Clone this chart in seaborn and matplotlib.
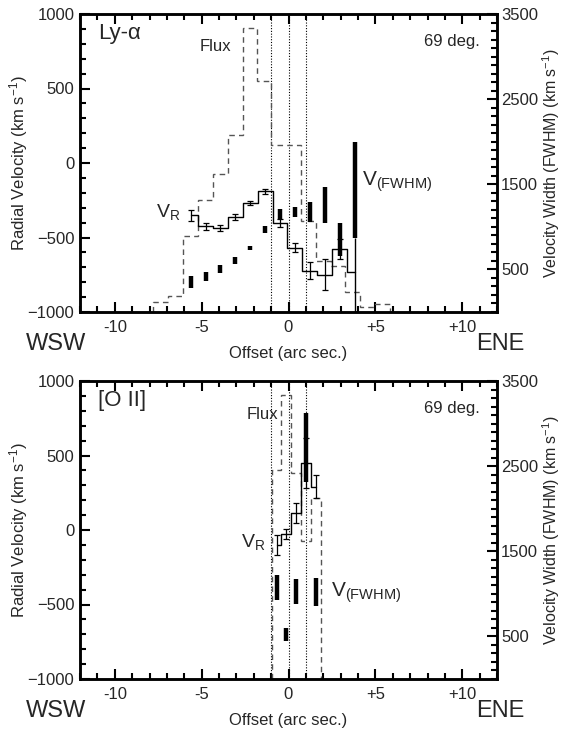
import numpy as np
import pandas as pd
import matplotlib
matplotlib.use("Agg")
import matplotlib.pyplot as plt
from matplotlib.ticker import MultipleLocator, FixedLocator, FixedFormatter
import seaborn as sns

sns.set_theme(style="white")
plt.rcParams['font.family'] = ['Liberation Sans', 'DejaVu Sans']
plt.rcParams['mathtext.fontset'] = 'custom'
plt.rcParams['mathtext.rm'] = 'Liberation Sans'
plt.rcParams['mathtext.it'] = 'Liberation Sans'
plt.rcParams['mathtext.bf'] = 'Liberation Sans'

# ---------------- data: Ly-alpha panel ----------------
lya_flux_edges = [-7.77, -6.91, -6.06, -5.20, -4.34, -3.49, -2.63, -1.80, -1.00,
                  -0.14, 0.71, 1.57, 2.43, 3.27, 4.11, 4.97, 5.84]
lya_flux = [-935, -895, -493, -246, -71, 186, 904, 550, 124, 124,
            -386, -655, -689, -868, -969, -946]
lya_offset = [-5.63, -4.77, -3.92, -3.06, -2.20, -1.34, -0.49, 0.37, 1.23, 2.08, 2.94, 3.80]
lya_vr = [-352, -426, -435, -363, -267, -190, -401, -569, -722, -749, -579, -733]
lya_vr_err = [34, 22, 22, 18, 13, 18, 27, 29, 56, 104, 67, 0]
lya_fwhm_lo = [282, 364, 454, 564, 724, 931, 1080, 1119, 1060, 1048, 657, 865]
lya_fwhm_hi = [423, 467, 552, 649, 778, 1010, 1206, 1236, 1288, 1471, 1041, 1996]

# ---------------- data: [O II] panel ----------------
oii_flux_edges = [-0.95, -0.43, 0.14, 0.71, 1.28, 1.85]
oii_flux = [403, 906, 380, -72, 213]
oii_offset = [-0.69, -0.15, 0.42, 0.99, 1.56]
oii_vr = [-101, -29, 114, 447, 291]
oii_vr_err = [70, 34, 69, 168, 75]
oii_fwhm_lo = [927, 450, 880, 2316, 857]
oii_fwhm_hi = [1221, 595, 1170, 3119, 1182]

slit_lines = [-1, 0, 1]
xtick_vals = [-10, -5, 0, 5, 10]
xtick_labels = ['-10', '-5', '0', '+5', '+10']
ytick_left = [-1000, -500, 0, 500, 1000]
ytick_right = [500, 1500, 2500, 3500]

W, H = 567, 730
fig = plt.figure(figsize=(W / 100, H / 100), dpi=100)
axL = 80 / W
axW = 417 / W
axH = 298 / H
ax_top = fig.add_axes([axL, 1 - 312 / H, axW, axH])
ax_bot = fig.add_axes([axL, 1 - 679 / H, axW, axH])


def draw_panel(ax, flux_edges, flux, offs, vr, vr_err, lo, hi, name, drop_end,
               flux_xy, vr_xy, fwhm_xy):
    ax.set_facecolor('white')
    # slit marker lines
    for xv in slit_lines:
        ax.axvline(xv, color='black', lw=0.8, ls=(0, (1, 1.5)), zorder=1)
    # flux (dashed histogram)
    ax.stairs(flux, flux_edges, baseline=-1000, color='#555555', lw=1.0,
              ls=(0, (4, 3)), zorder=2)
    # radial velocity step line
    df = pd.DataFrame({'offset': offs, 'vr': vr})
    sns.lineplot(data=df, x='offset', y='vr', drawstyle='steps-mid', color='black',
                 lw=1.0, estimator=None, errorbar=None, sort=True, ax=ax, zorder=3)
    errs = np.array(vr_err, dtype=float)
    m = errs > 0
    ax.errorbar(np.array(offs)[m], np.array(vr)[m], yerr=errs[m], fmt='none',
                ecolor='black', elinewidth=0.9, capsize=2.2, capthick=0.9, zorder=3)
    ax.set_xlim(-12, 12)
    ax.set_ylim(-1000, 1000)
    ax.set_xlabel('')
    ax.set_ylabel('Radial Velocity (km s$^{-1}$)', fontsize=12)
    ax.yaxis.set_label_coords(-0.12, 0.5)
    ax.xaxis.set_major_locator(FixedLocator(xtick_vals))
    ax.xaxis.set_major_formatter(FixedFormatter(xtick_labels))
    ax.xaxis.set_minor_locator(MultipleLocator(1))
    ax.yaxis.set_major_locator(FixedLocator(ytick_left))
    ax.yaxis.set_minor_locator(MultipleLocator(100))
    ax.tick_params(which='both', direction='in', top=True, bottom=True, left=True,
                   right=False, labelsize=12, width=1.5, color='black', pad=4)
    ax.tick_params(axis='x', which='major', pad=6)
    ax.tick_params(which='major', length=7)
    ax.tick_params(which='minor', length=4)
    for s in ax.spines.values():
        s.set_color('black')
        s.set_linewidth(1.8)

    ax2 = ax.twinx()
    ax2.vlines(offs, lo, hi, color='black', lw=3.2, zorder=4)
    if drop_end:
        ax2.vlines(offs[-1], 0, lo[-1], color='black', lw=1.0, zorder=4)
    ax2.set_ylim(0, 3500)
    ax2.yaxis.set_major_locator(FixedLocator(ytick_right))
    ax2.yaxis.set_minor_locator(MultipleLocator(100))
    ax2.tick_params(which='both', direction='in', right=True, left=False,
                    labelsize=12, width=1.5, color='black', pad=3)
    ax2.tick_params(which='major', length=7)
    ax2.tick_params(which='minor', length=4)
    ax2.set_ylabel('Velocity Width (FWHM) (km s$^{-1}$)', fontsize=11.5)
    ax2.yaxis.set_label_coords(1.103, 0.5)
    for s in ax2.spines.values():
        s.set_color('black')
        s.set_linewidth(1.8)
    ax2.grid(False)
    ax.grid(False)

    # annotations
    ax.text(0.044, 0.936, name, transform=ax.transAxes, fontsize=16,
            ha='left', va='center')
    ax.text(0.959, 0.909, '69 deg.', transform=ax.transAxes, fontsize=12,
            ha='right', va='center')
    ax.text(flux_xy[0], flux_xy[1], 'Flux', fontsize=12, ha='center', va='center')
    ax.text(vr_xy[0], vr_xy[1], 'V$_{\\mathrm{R}}$', fontsize=14, ha='left', va='center')
    ax.text(fwhm_xy[0], fwhm_xy[1], 'V$_{\\mathrm{(FWHM)}}$', fontsize=15, ha='left', va='center')
    ax.text(0.5, -0.14, 'Offset (arc sec.)', transform=ax.transAxes, fontsize=12,
            ha='center', va='center')
    ax.text(-0.058, -0.108, 'WSW', transform=ax.transAxes, fontsize=17,
            ha='center', va='center')
    ax.text(1.007, -0.108, 'ENE', transform=ax.transAxes, fontsize=17,
            ha='center', va='center')
    return ax2


draw_panel(ax_top, lya_flux_edges, lya_flux, lya_offset, lya_vr, lya_vr_err,
           lya_fwhm_lo, lya_fwhm_hi, 'Ly-α', True,
           (-4.19, 781), (-7.6, -330), (4.21, -123))
draw_panel(ax_bot, oii_flux_edges, oii_flux, oii_offset, oii_vr, oii_vr_err,
           oii_fwhm_lo, oii_fwhm_hi, '[O II]', False,
           (-1.49, 772), (-2.75, -78), (2.42, -423))

fig.savefig('out.png', dpi=100)
